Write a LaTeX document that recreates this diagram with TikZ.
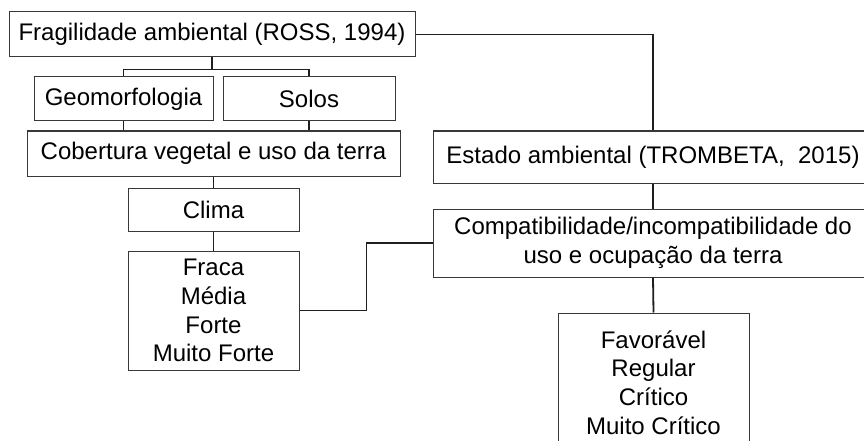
\documentclass[tikz,border=0pt]{standalone}
\usepackage{fontspec}
\setmainfont{Liberation Sans}
\begin{document}
\begin{tikzpicture}[x=1pt,y=-1pt,
  box/.style={draw=black!78,line width=1pt,inner sep=0pt,align=center,
    font=\fontsize{24}{28.8}\selectfont},
  conn/.style={draw=black!88,line width=1.8pt}]
\clip (0,0) rectangle (864,441);
\fill[white] (0,0) rectangle (864,441);
\node[box,minimum width=406,minimum height=45] (frag) at (212,34.5) {Fragilidade ambiental (ROSS, 1994)};
\node[box,minimum width=179,minimum height=44] (geo) at (123.5,99) {Geomorfologia};
\node[box,minimum width=172,minimum height=44] (solos) at (309,99) {Solos};
\node[box,minimum width=373,minimum height=45] (cob) at (213.5,153.5) {Cobertura vegetal e uso da terra};
\node[box,minimum width=171,minimum height=43] (clima) at (213.5,209.5) {Clima};
\node[box,minimum width=171,minimum height=119] (fraca) at (213.5,310.5) {Fraca\\Média\\Forte\\Muito Forte};
\node[box,minimum width=440,minimum height=52] (estado) at (653,157) {Estado ambiental (TROMBETA,\ \ 2015)};
\node[box,minimum width=440,minimum height=68] (compat) at (653,243) {Compatibilidade/incompatibilidade do\\uso e ocupação da terra};
\node[box,minimum width=191,minimum height=139] (fav) at (653.5,382.5) {Favorável\\Regular\\Crítico\\Muito Crítico};
\draw[conn] (frag.east) -| (estado.north);
\draw[conn] (frag.south) -- ++(0,12) coordinate (split) -| (geo.north);
\draw[conn] (split) -| (solos.north);
\draw[conn] (geo.south) -- (geo.south |- cob.north);
\draw[conn] (solos.south) -- (solos.south |- cob.north);
\draw[conn] (cob.south) -- (clima.north);
\draw[conn] (clima.south) -- (fraca.north);
\draw[conn] (fraca.east) -- ++(67,0) |- (compat.west);
\draw[conn] (estado.south) -- (compat.north);
\draw[conn] (compat.south) -- (fav.north);
\end{tikzpicture}
\end{document}
